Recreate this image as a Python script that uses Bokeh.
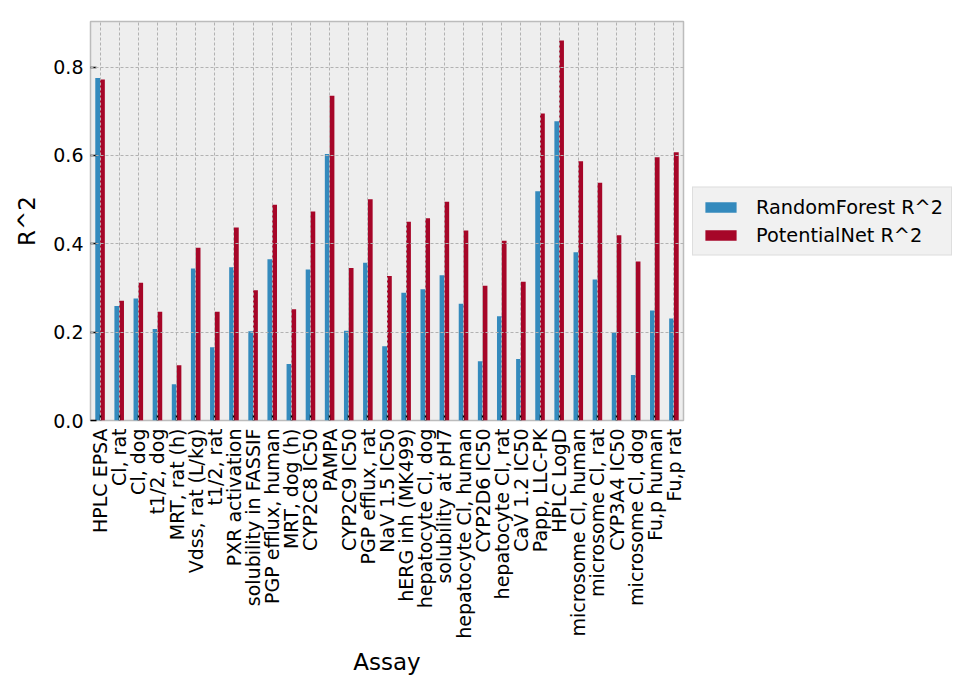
import math
from bokeh.plotting import figure
from bokeh.models import (ColumnDataSource, FactorRange, Range1d, FixedTicker,
                          PrintfTickFormatter, Legend, LegendItem)
from bokeh.transform import dodge
from bokeh.embed import file_html
from bokeh.resources import INLINE

assays = ["HPLC EPSA", "Cl, rat", "Cl, dog", "t1/2, dog", "MRT, rat (h)",
          "Vdss, rat (L/kg)", "t1/2, rat", "PXR activation", "solubility in FASSIF",
          "PGP efflux, human", "MRT, dog (h)", "CYP2C8 IC50", "PAMPA", "CYP2C9 IC50",
          "PGP efflux, rat", "NaV 1.5 IC50", "hERG inh (MK499)", "hepatocyte Cl, dog",
          "solubility at pH7", "hepatocyte Cl, human", "CYP2D6 IC50", "hepatocyte Cl, rat",
          "CaV 1.2 IC50", "Papp, LLC-PK", "HPLC LogD", "microsome Cl, human",
          "microsome Cl, rat", "CYP3A4 IC50", "microsome Cl, dog", "Fu,p human", "Fu,p rat"]

rf_r2 = [0.775, 0.259, 0.276, 0.207, 0.082, 0.344, 0.166, 0.347, 0.202, 0.365,
         0.128, 0.342, 0.603, 0.203, 0.357, 0.168, 0.289, 0.297, 0.329, 0.264,
         0.134, 0.236, 0.139, 0.519, 0.677, 0.381, 0.319, 0.199, 0.103, 0.249, 0.231]

pn_r2 = [0.772, 0.271, 0.312, 0.246, 0.125, 0.391, 0.246, 0.437, 0.295, 0.488,
         0.252, 0.473, 0.735, 0.345, 0.501, 0.327, 0.450, 0.458, 0.495, 0.430,
         0.305, 0.407, 0.314, 0.695, 0.860, 0.587, 0.538, 0.419, 0.360, 0.596, 0.607]

y_ticks = [0.0, 0.2, 0.4, 0.6, 0.8]
series_names = ["RandomForest R^2", "PotentialNet R^2"]

FONT = "DejaVu Sans"
BLUE = "#348ABD"
RED = "#A60628"

src = ColumnDataSource(dict(assay=assays, rf=rf_r2, pn=pn_r2))

p = figure(x_range=FactorRange(*assays, range_padding=0),
           y_range=Range1d(0, max(pn_r2) * 1.05),
           frame_width=593, frame_height=399,
           min_border_left=90, min_border_top=21, min_border_right=10,
           output_backend="svg", toolbar_location=None)

p.background_fill_color = "#eeeeee"
p.border_fill_color = "white"
p.outline_line_color = "#bcbcbc"
p.outline_line_width = 1.5

r1 = p.vbar(x=dodge("assay", -0.125, range=p.x_range), top="rf", width=0.25,
            source=src, fill_color=BLUE, line_color=None)
r2 = p.vbar(x=dodge("assay", 0.125, range=p.x_range), top="pn", width=0.25,
            source=src, fill_color=RED, line_color=None)

for g in (p.xgrid[0], p.ygrid[0]):
    g.grid_line_color = "#b2b2b2"
    g.grid_line_dash = "3 2"
    g.grid_line_width = 1
    g.level = "overlay"

p.yaxis.ticker = FixedTicker(ticks=y_ticks)
p.yaxis.formatter = PrintfTickFormatter(format="%.1f")

for ax in (p.xaxis[0], p.yaxis[0]):
    ax.axis_line_color = None
    ax.major_tick_in = 6
    ax.major_tick_out = 0
    ax.major_tick_line_color = "black"
    ax.major_tick_line_width = 1.5
    ax.minor_tick_line_color = None
    ax.major_label_text_font = FONT
    ax.major_label_text_font_size = "19px"
    ax.major_label_text_color = "black"
    ax.axis_label_text_font = FONT
    ax.axis_label_text_font_size = "23px"
    ax.axis_label_text_font_style = "normal"
    ax.axis_label_text_color = "black"

p.xaxis.major_label_orientation = math.pi / 2
p.xaxis.major_label_standoff = 8
p.xaxis.axis_label = "Assay"
p.xaxis.axis_label_standoff = 7
p.yaxis.major_label_standoff = 7
p.yaxis.axis_label = "R^2"
p.yaxis.axis_label_standoff = 10

legend = Legend(items=[LegendItem(label=series_names[0], renderers=[r1]),
                       LegendItem(label=series_names[1], renderers=[r2])],
                location="center_left")
legend.label_text_font = FONT
legend.label_text_font_size = "19.3px"
legend.label_text_color = "black"
legend.glyph_width = 39
legend.glyph_height = 13
legend.label_height = 23
legend.label_standoff = 16
legend.spacing = 5
legend.padding = 8
legend.margin = 9
legend.background_fill_color = "#f1f1f1"
legend.background_fill_alpha = 1
legend.border_line_color = "#cccccc"
legend.border_line_width = 1
p.add_layout(legend, "right")

open("out.html", "w").write(file_html(p, INLINE))
